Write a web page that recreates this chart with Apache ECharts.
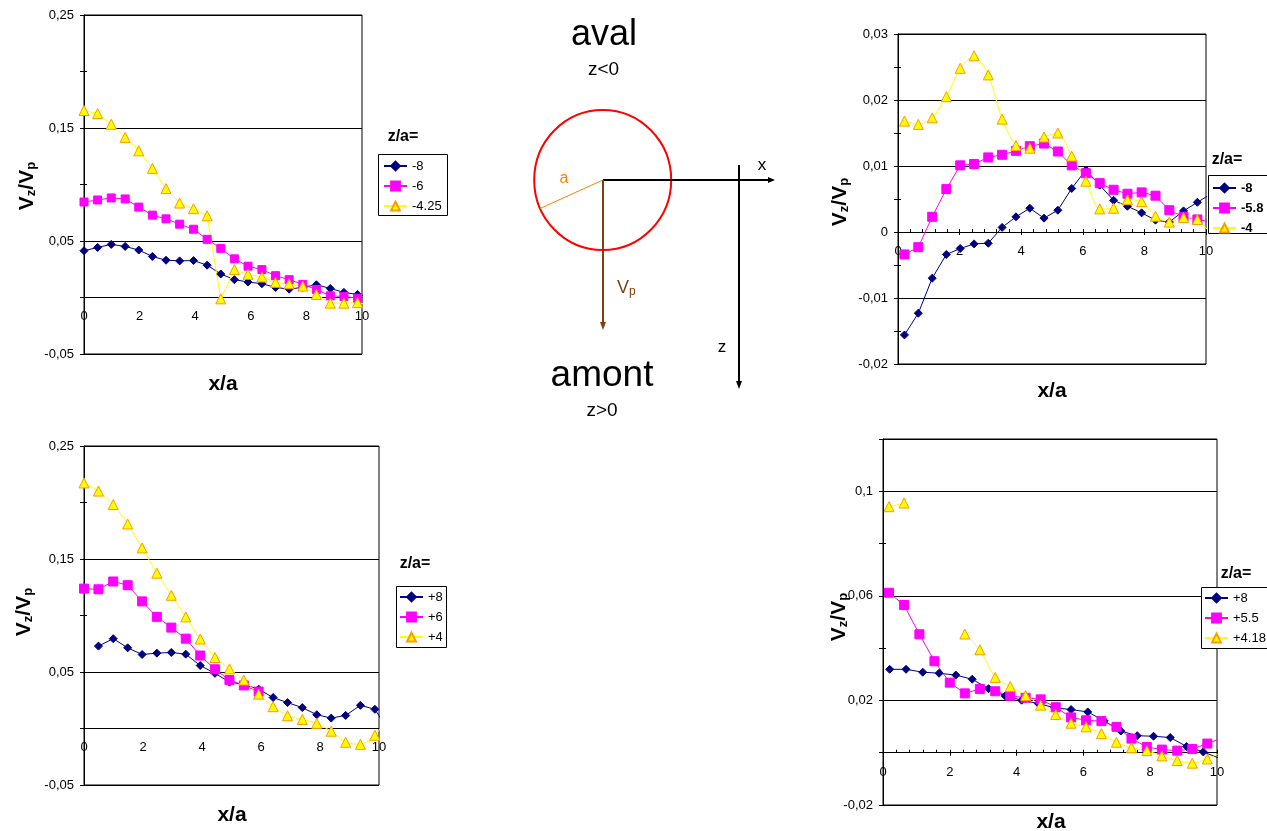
<!DOCTYPE html>
<html><head><meta charset="utf-8"><title>Vz/Vp</title>
<script src="https://cdn.jsdelivr.net/npm/echarts@6.0.0/dist/echarts.min.js"></script>
<style>html,body{margin:0;padding:0;background:#fff;overflow:hidden}#c{width:1267px;height:831px}</style>
</head><body><div id="c"></div><script>
// ---------- DATA ----------
// x/a positions (last entry: point beyond the axis end, clipped at x/a = 10)
const xTop1   = [0,0.49,0.98,1.48,1.97,2.46,2.95,3.44,3.94,4.43,4.92,5.41,5.9,6.4,6.89,7.38,7.87,8.36,8.86,9.35,9.84,10.33];
const xTop2   = [0.21,0.66,1.11,1.57,2.02,2.47,2.93,3.38,3.83,4.28,4.74,5.19,5.64,6.1,6.55,7.0,7.45,7.91,8.36,8.81,9.27,9.72,10.17];
const xBot1   = [0,0.49,0.99,1.48,1.97,2.47,2.96,3.45,3.94,4.44,4.93,5.42,5.92,6.41,6.9,7.4,7.89,8.38,8.87,9.37,9.86,10.33];
const xBot2a  = [0.2,0.69,1.19,1.68,2.18,2.67,3.16,3.66,4.15,4.65,5.14,5.63,6.13,6.62,7.12,7.61,8.1,8.6,9.09,9.59,10.3];
const xBot2b  = [0.18,0.63,1.09,1.54,2.0,2.45,2.9,3.36,3.81,4.27,4.72,5.17,5.63,6.08,6.54,6.99,7.44,7.9,8.35,8.81,9.26,9.71,10.17];

// Top-left (aval): z/a = -8, -6, -4.25
const tl_m8   = [0.0414,0.0443,0.047,0.0452,0.042,0.0363,0.033,0.0324,0.0327,0.0286,0.0208,0.0158,0.0137,0.0122,0.0089,0.0074,0.009,0.0113,0.008,0.0045,0.0027,0.0];
const tl_m6   = [0.0845,0.0863,0.0881,0.0872,0.080,0.0729,0.0696,0.0649,0.0604,0.0515,0.0435,0.0342,0.0277,0.0247,0.0193,0.0158,0.0116,0.0071,0.0015,0.0009,-0.0006,-0.0052];
const tl_m425 = [0.1655,0.1628,0.1533,0.1417,0.1298,0.1143,0.0964,0.0836,0.0786,0.0723,-0.0012,0.0247,0.0205,0.0182,0.0134,0.0122,0.0101,0.0027,-0.005,-0.005,-0.0045,-0.0073];

// Top-right (aval): z/a = -8, -5.8, -4
const tr_m8   = [-0.0156,-0.0123,-0.0070,-0.0034,-0.0025,-0.0018,-0.0017,0.0007,0.0023,0.0036,0.0021,0.0033,0.0066,0.0094,0.0071,0.0048,0.0039,0.0029,0.0018,0.0015,0.0032,0.0045,0.0058];
const tr_m58  = [-0.0034,-0.0023,0.0023,0.0065,0.0101,0.0103,0.0113,0.0117,0.0123,0.0130,0.0134,0.0122,0.0101,0.0089,0.0074,0.0064,0.0058,0.0060,0.0055,0.0033,0.0023,0.0019,0.0015];
const tr_m4   = [0.0168,0.0163,0.0173,0.0205,0.0248,0.0267,0.0238,0.0171,0.0131,0.0127,0.0144,0.0150,0.0115,0.0077,0.0035,0.0036,0.0049,0.0046,0.0024,0.0015,0.0022,0.0019,-0.0003];

// Bottom-left (amont): z/a = +8, +6, +4
const bl_p8   = [null,0.0729,0.0795,0.0714,0.0655,0.0667,0.0673,0.0658,0.0557,0.0488,0.0411,0.039,0.0348,0.0274,0.0229,0.0185,0.0122,0.0092,0.0116,0.0205,0.017,-0.002];
const bl_p6   = [0.1238,0.1232,0.1301,0.1268,0.1125,0.0988,0.0893,0.0795,0.0646,0.0524,0.0429,0.0381,0.0327];
const bl_p4   = [0.2173,0.2101,0.1982,0.181,0.1598,0.1375,0.1179,0.0988,0.0792,0.0628,0.0527,0.0429,0.0304,0.0193,0.0113,0.008,0.0045,-0.0024,-0.0122,-0.014,-0.006,0.011];

// Bottom-right (amont): z/a = +8, +5.5, +4.18
const br_p8   = [0.0319,0.0319,0.0308,0.0304,0.0297,0.0281,0.0245,0.0217,0.0201,0.0188,0.0172,0.0165,0.0156,0.0122,0.0083,0.0065,0.0063,0.0058,0.0024,0.0003,-0.0033];
const br_p55  = [0.0612,0.0565,0.0453,0.035,0.0268,0.0227,0.0244,0.0235,0.0218,0.021,0.0204,0.0174,0.0135,0.0124,0.0121,0.0099,0.0054,0.0022,0.0012,0.0008,0.0014,0.0035,0.0057];
const br_p418 = [0.0941,0.0955,null,null,null,0.0454,0.0394,0.0288,0.0253,0.0219,0.0182,0.0146,0.0113,0.0099,0.0073,0.004,0.0019,0.0008,-0.0012,-0.003,-0.004,-0.0024,0.0004];

// legend names
const names_tl = ['-8','-6','-4.25'];
const names_tr = ['-8','-5.8','-4'];
const names_bl = ['+8','+6','+4'];
const names_br = ['+8','+5.5','+4.18'];

// tick labels
const xTicks   = [0,2,4,6,8,10];
const yTicksTL = [-0.05,0.05,0.15,0.25];
const yTicksTR = [-0.02,-0.01,0,0.01,0.02,0.03];
const yTicksBL = [-0.05,0.05,0.15,0.25];
const yTicksBR = [-0.02,0.02,0.06,0.1];

// ---------- CHART ----------
const FONT = '"Liberation Sans", Arial, sans-serif';
const NAVY = '#000080', MAG = '#FF00FF', YEL = '#FFFF00', ORG = '#FF9900', BROWN = '#7F4010';

const panels = [
  {left:84,  top:15,  width:278, height:339, yTicks:yTicksTL, yMax:0.25, minor:0.05,  xMinor:false, xMargin:12},
  {left:898, top:34,  width:308, height:330, yTicks:yTicksTR, yMax:0.03, minor:0.005, xMinor:true,  xMargin:13},
  {left:84,  top:446, width:295, height:339, yTicks:yTicksBL, yMax:0.25, minor:0.05,  xMinor:false, xMargin:12},
  {left:883, top:439, width:334, height:366, yTicks:yTicksBR, yMax:0.12, minor:0.02,  xMinor:true,  xMargin:13}
];

const fmtFor = ticks => v => ticks.some(t => Math.abs(t - v) < 1e-9) ? String(Math.round(v * 1000) / 1000).replace('.', ',') : '';

const grids = [], xAxes = [], yAxes = [];
panels.forEach((p, g) => {
  grids.push({left:p.left, top:p.top, width:p.width, height:p.height, show:true, borderColor:'#000', borderWidth:1,
              backgroundColor:'transparent', containLabel:false, outerBoundsMode:'none'});
  const yMin = p.yTicks[0], yInt = p.yTicks[1] - p.yTicks[0];
  // x axis drawn on the y = 0 line: shift it up from the bottom edge by the scale position of zero
  const zeroShift = -p.height * (0 - yMin) / (p.yMax - yMin);
  xAxes.push({gridIndex:g, type:'value', min:xTicks[0], max:xTicks[xTicks.length-1], interval:xTicks[1]-xTicks[0], position:'bottom', offset:zeroShift,
    axisLine:{show:true, onZero:false, lineStyle:{color:'#000', width:1}},
    axisTick:{show:p.xMinor, inside:false, length:3, lineStyle:{color:'#000', width:1}},
    axisLabel:{show:true, margin:p.xMargin, fontSize:13, color:'#000', fontFamily:FONT, formatter:v => String(v)},
    splitLine:{show:false}});
  xAxes.push({gridIndex:g, type:'value', min:0, max:10, interval:0.4, position:'bottom', offset:zeroShift,
    axisLine:{show:false, onZero:false},
    axisTick:{show:p.xMinor, inside:true, length:3, lineStyle:{color:'#000', width:1}},
    axisLabel:{show:false}, splitLine:{show:false}});
  yAxes.push({gridIndex:g, type:'value', min:yMin, max:p.yMax, interval:yInt, position:'left',
    axisLine:{show:true, onZero:false, lineStyle:{color:'#000', width:1}},
    axisTick:{show:false},
    axisLabel:{show:true, margin:10, fontSize:13, color:'#000', fontFamily:FONT, formatter:fmtFor(p.yTicks)},
    splitLine:{show:true, lineStyle:{color:'#000', width:1}}});
  yAxes.push({gridIndex:g, type:'value', min:yMin, max:p.yMax, interval:p.minor, position:'left',
    axisLine:{show:false, onZero:false}, axisTick:{show:true, inside:false, length:4, lineStyle:{color:'#000'}},
    axisLabel:{show:false}, splitLine:{show:false}});
  yAxes.push({gridIndex:g, type:'value', min:yMin, max:p.yMax, interval:p.minor, position:'left',
    axisLine:{show:false, onZero:false}, axisTick:{show:true, inside:true, length:3, lineStyle:{color:'#000'}},
    axisLabel:{show:false}, splitLine:{show:false}});
});

function mk(name, g, xs, ys, kind, size, smooth) {
  const c = kind === 'd' ? NAVY : kind === 's' ? MAG : YEL;
  return {
    name, type:'line', xAxisIndex:2*g, yAxisIndex:3*g,
    data: ys.map((y, i) => [xs[i], y === null ? '-' : y]),
    symbol: kind === 'd' ? 'diamond' : kind === 's' ? 'rect' : 'triangle',
    symbolSize: size, showSymbol:true, showAllSymbol:true, smooth: smooth || false,
    connectNulls:false, clip:true, animation:false, silent:true,
    lineStyle:{color:c, width:1},
    itemStyle:{color:c, borderColor: kind === 't' ? ORG : c, borderWidth:1},
    emphasis:{disabled:true}
  };
}

const series = [
  mk(names_tl[0], 0, xTop1, tl_m8, 'd', 8),
  mk(names_tl[1], 0, xTop1, tl_m6, 's', 8),
  mk(names_tl[2], 0, xTop1, tl_m425, 't', 10),
  mk(names_tr[0], 1, xTop2, tr_m8, 'd', 8),
  mk(names_tr[1], 1, xTop2, tr_m58, 's', 9),
  mk(names_tr[2], 1, xTop2, tr_m4, 't', 10, 0.25),
  mk(names_bl[0], 2, xBot1, bl_p8, 'd', 8),
  mk(names_bl[1], 2, xBot1, bl_p6, 's', 9),
  mk(names_bl[2], 2, xBot1, bl_p4, 't', 10, 0.25),
  mk(names_br[0], 3, xBot2a, br_p8, 'd', 8),
  mk(names_br[1], 3, xBot2b, br_p55, 's', 9),
  mk(names_br[2], 3, xBot2b, br_p418, 't', 10, 0.25)
];

function lg(data, left, top, bold) {
  return {data, left, top, orient:'vertical', itemWidth:23, itemHeight:11, itemGap:0, padding:0,
    selectedMode:false, z:20, backgroundColor:'transparent', borderWidth:0,
    textStyle:{fontSize:13, color:'#000', fontFamily:FONT, fontWeight: bold ? 'bold' : 'normal', lineHeight:20}};
}
const legends = [lg(names_tl, 383, 156, false), lg(names_tr, 1212, 178, true), lg(names_bl, 399, 587, false), lg(names_br, 1204, 588, false)];

// ---------- TEXT / DIAGRAM (graphic) ----------
const gfx = [];
[[378,154,69,61],[1208,175,70,58],[396,586,50,61],[1201,587,70,61]].forEach(b =>
  gfx.push({type:'rect', z:10, shape:{x:b[0]+0.5, y:b[1]+0.5, width:b[2], height:b[3]}, style:{fill:'#fff', stroke:'#000', lineWidth:1}}));
[[403,137],[1227,160],[415,564],[1236,574]].forEach(t =>
  gfx.push({type:'text', z:12, x:t[0], y:t[1], style:{text:'z/a=', fontSize:16, fontWeight:'bold', fontFamily:FONT, fill:'#000', align:'center', verticalAlign:'middle'}}));
const vRich = {
  v:{fontSize:21, fontWeight:'bold', fontFamily:FONT, fill:'#000', lineHeight:22, verticalAlign:'bottom'},
  s:{fontSize:13, fontWeight:'bold', fontFamily:FONT, fill:'#000', lineHeight:13, verticalAlign:'bottom'}
};
[[27,186],[840,202],[24,612],[839,617]].forEach(t =>
  gfx.push({type:'text', z:12, x:t[0], y:t[1], rotation:Math.PI/2, style:{text:'{v|V}{s|z}{v|/V}{s|p}', rich:vRich, align:'center', verticalAlign:'middle'}}));
[[223,384],[1052,391],[232,815],[1051,822]].forEach(t =>
  gfx.push({type:'text', z:12, x:t[0], y:t[1], style:{text:'x/a', fontSize:21, fontWeight:'bold', fontFamily:FONT, fill:'#000', align:'center', verticalAlign:'middle'}}));

const T = (text, x, y, size, color) => ({type:'text', z:12, x, y, style:{text, fontSize:size, fontFamily:FONT, fill:color || '#000', align:'center', verticalAlign:'middle'}});
gfx.push(T('aval', 604, 35, 36));
gfx.push(T('z<0', 603.5, 70, 19));
gfx.push(T('amont', 602, 376, 37));
gfx.push(T('z>0', 602, 411, 19));
gfx.push({type:'ellipse', z:12, shape:{cx:602.7, cy:180, rx:68.5, ry:70}, style:{fill:'none', stroke:'#FF0000', lineWidth:2}});
gfx.push({type:'line', z:12, shape:{x1:603, y1:180, x2:770, y2:180}, style:{stroke:'#000', lineWidth:2}});
gfx.push({type:'polygon', z:12, shape:{points:[[775,180],[768,177],[768,183]]}, style:{fill:'#000'}});
gfx.push({type:'line', z:12, shape:{x1:739, y1:165, x2:739, y2:383}, style:{stroke:'#000', lineWidth:2}});
gfx.push({type:'polygon', z:12, shape:{points:[[739,389],[736,381],[742,381]]}, style:{fill:'#000'}});
gfx.push({type:'line', z:12, shape:{x1:603, y1:180, x2:540, y2:208.5}, style:{stroke:'#FF8000', lineWidth:1}});
gfx.push({type:'line', z:12, shape:{x1:603, y1:180, x2:603, y2:324}, style:{stroke:BROWN, lineWidth:2}});
gfx.push({type:'polygon', z:12, shape:{points:[[603,330],[600,322],[606,322]]}, style:{fill:BROWN}});
gfx.push(T('x', 762, 165, 17));
gfx.push(T('z', 722, 347, 17));
gfx.push(T('a', 564, 179, 16, '#FF8000'));
gfx.push({type:'text', z:12, x:617, y:288, style:{text:'{v|V}{s|p}', align:'left', verticalAlign:'middle',
  rich:{v:{fontSize:18, fontFamily:FONT, fill:BROWN, lineHeight:19, verticalAlign:'bottom'},
        s:{fontSize:12, fontFamily:FONT, fill:BROWN, lineHeight:12, verticalAlign:'bottom'}}}});

const chart = echarts.init(document.getElementById('c'), null, {renderer:'canvas', width:1267, height:831});
chart.setOption({
  animation:false,
  backgroundColor:'#fff',
  textStyle:{fontFamily:FONT},
  grid:grids, xAxis:xAxes, yAxis:yAxes, series, legend:legends, graphic:gfx,
  tooltip:{show:false}
});
</script></body></html>
